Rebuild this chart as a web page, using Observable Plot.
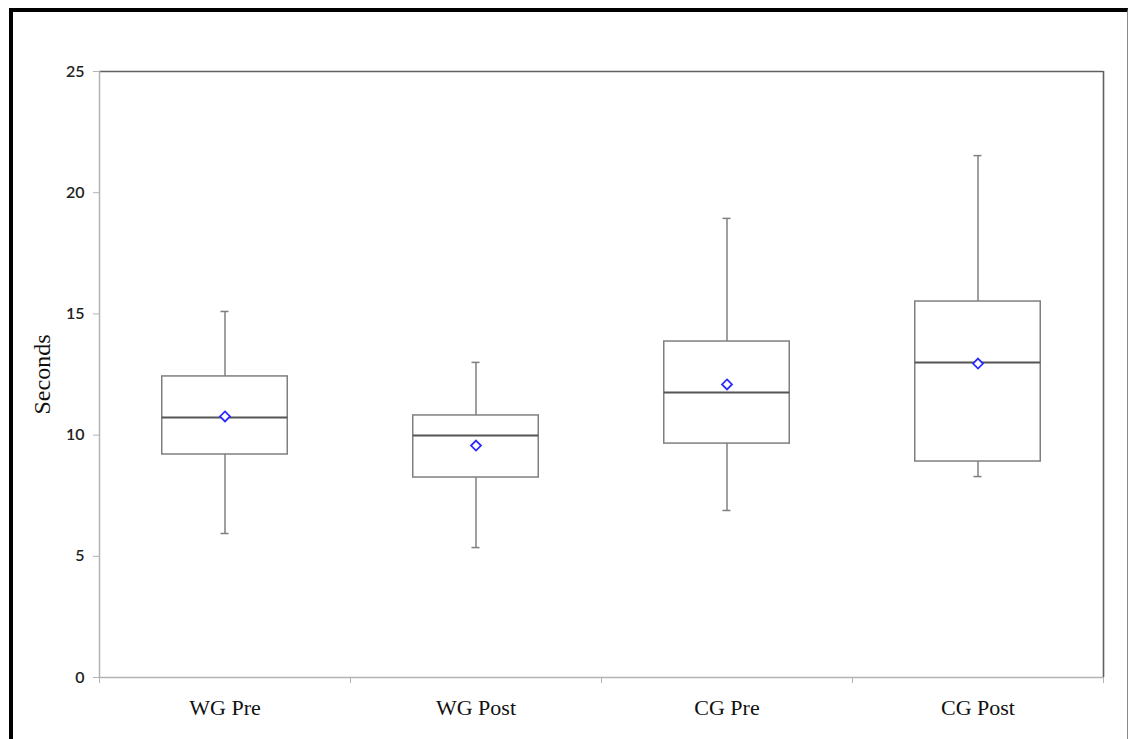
<!DOCTYPE html>
<html>
<head>
<meta charset="utf-8">
<script src="https://cdn.jsdelivr.net/npm/d3@7"></script>
<script src="https://cdn.jsdelivr.net/npm/@observablehq/plot@0.6"></script>
<style>
  html, body { margin: 0; padding: 0; background: #fff; overflow: hidden; }
  #wrap { position: relative; width: 1129px; height: 739px; }
  #border { position: absolute; left: 9px; top: 8px; width: 1114px; height: 760px;
            border-left: 4px solid #000; border-top: 4px solid #000; border-right: 1.5px solid #8a8a8a; pointer-events: none; }
  #chart { position: absolute; left: 0; top: 0; }
</style>
</head>
<body>
<div id="wrap">
  <div id="chart"></div>
  <div id="border"></div>
</div>
<script>
const categories = ["WG Pre", "WG Post", "CG Pre", "CG Post"];
const minValues    = [5.94, 5.36, 6.89, 8.29];
const q1Values     = [9.20, 8.25, 9.65, 8.91];
const medianValues = [10.73, 9.98, 11.76, 13.00];
const q3Values     = [12.42, 10.81, 13.86, 15.51];
const maxValues    = [15.10, 13.00, 18.94, 21.53];
const meanValues   = [10.77, 9.57, 12.09, 12.95];
const yTicks = [0, 5, 10, 15, 20, 25];

const data = categories.map((c, i) => ({
  name: c, i,
  min: minValues[i], q1: q1Values[i], median: medianValues[i],
  q3: q3Values[i], max: maxValues[i], mean: meanValues[i]
}));

const boxGray = "#7f7f7f";
const capHalf = 0.016;
const serif = "'Liberation Serif', 'Times New Roman', serif";

const chart = Plot.plot({
  width: 1129,
  height: 739,
  marginLeft: 99,
  marginRight: 26,
  marginTop: 71,
  marginBottom: 62,
  style: { fontSize: "16px", fontFamily: "Lato, 'Open Sans', sans-serif", background: "white" },
  x: { type: "linear", domain: [0, categories.length] },
  y: { domain: [0, 25] },
  marks: [
    // frame lines
    Plot.ruleY([25], { stroke: "#606060", strokeWidth: 1.6 }),
    Plot.ruleX([categories.length], { stroke: "#606060", strokeWidth: 1.6 }),
    Plot.ruleX([0], { stroke: "#b3b3b3", strokeWidth: 1.5 }),
    Plot.ruleY([0], { stroke: "#b3b3b3", strokeWidth: 1.5 }),
    // axes
    Plot.axisY({
      ticks: yTicks, tickSize: 6, tickPadding: 9, stroke: "#b3b3b3",
      fontSize: 16, fontWeight: 600, fill: "#222", label: null
    }),
    Plot.axisX({
      ticks: d3.range(categories.length + 1), tickSize: 6, tickFormat: () => "",
      stroke: "#b3b3b3", label: null
    }),
    // whiskers
    Plot.ruleX(data, { x: d => d.i + 0.5, y1: "q3", y2: "max", stroke: boxGray, strokeWidth: 1.5 }),
    Plot.ruleX(data, { x: d => d.i + 0.5, y1: "min", y2: "q1", stroke: boxGray, strokeWidth: 1.5 }),
    Plot.ruleY(data, { y: "max", x1: d => d.i + 0.5 - capHalf, x2: d => d.i + 0.5 + capHalf, stroke: boxGray, strokeWidth: 1.5 }),
    Plot.ruleY(data, { y: "min", x1: d => d.i + 0.5 - capHalf, x2: d => d.i + 0.5 + capHalf, stroke: boxGray, strokeWidth: 1.5 }),
    // boxes
    Plot.rect(data, { x1: d => d.i + 0.25, x2: d => d.i + 0.75, y1: "q1", y2: "q3",
      fill: "white", stroke: boxGray, strokeWidth: 1.5 }),
    // medians
    Plot.ruleY(data, { y: "median", x1: d => d.i + 0.25, x2: d => d.i + 0.75, stroke: "#555", strokeWidth: 2 }),
    // means
    Plot.dot(data, { x: d => d.i + 0.5, y: "mean", symbol: "diamond2", r: 4.5,
      fill: "white", stroke: "#2b2bff", strokeWidth: 1.8 }),
    // category labels
    Plot.text(data, { x: d => d.i + 0.5, y: () => 0, text: "name", dy: 30,
      fontFamily: serif, fontSize: 22, fill: "#111" }),
    // y label
    Plot.text(["Seconds"], { frameAnchor: "left", textAnchor: "middle", dx: -57, rotate: -90,
      fontFamily: serif, fontSize: 24, fill: "#111" })
  ]
});
document.getElementById("chart").appendChild(chart);
</script>
</body>
</html>
